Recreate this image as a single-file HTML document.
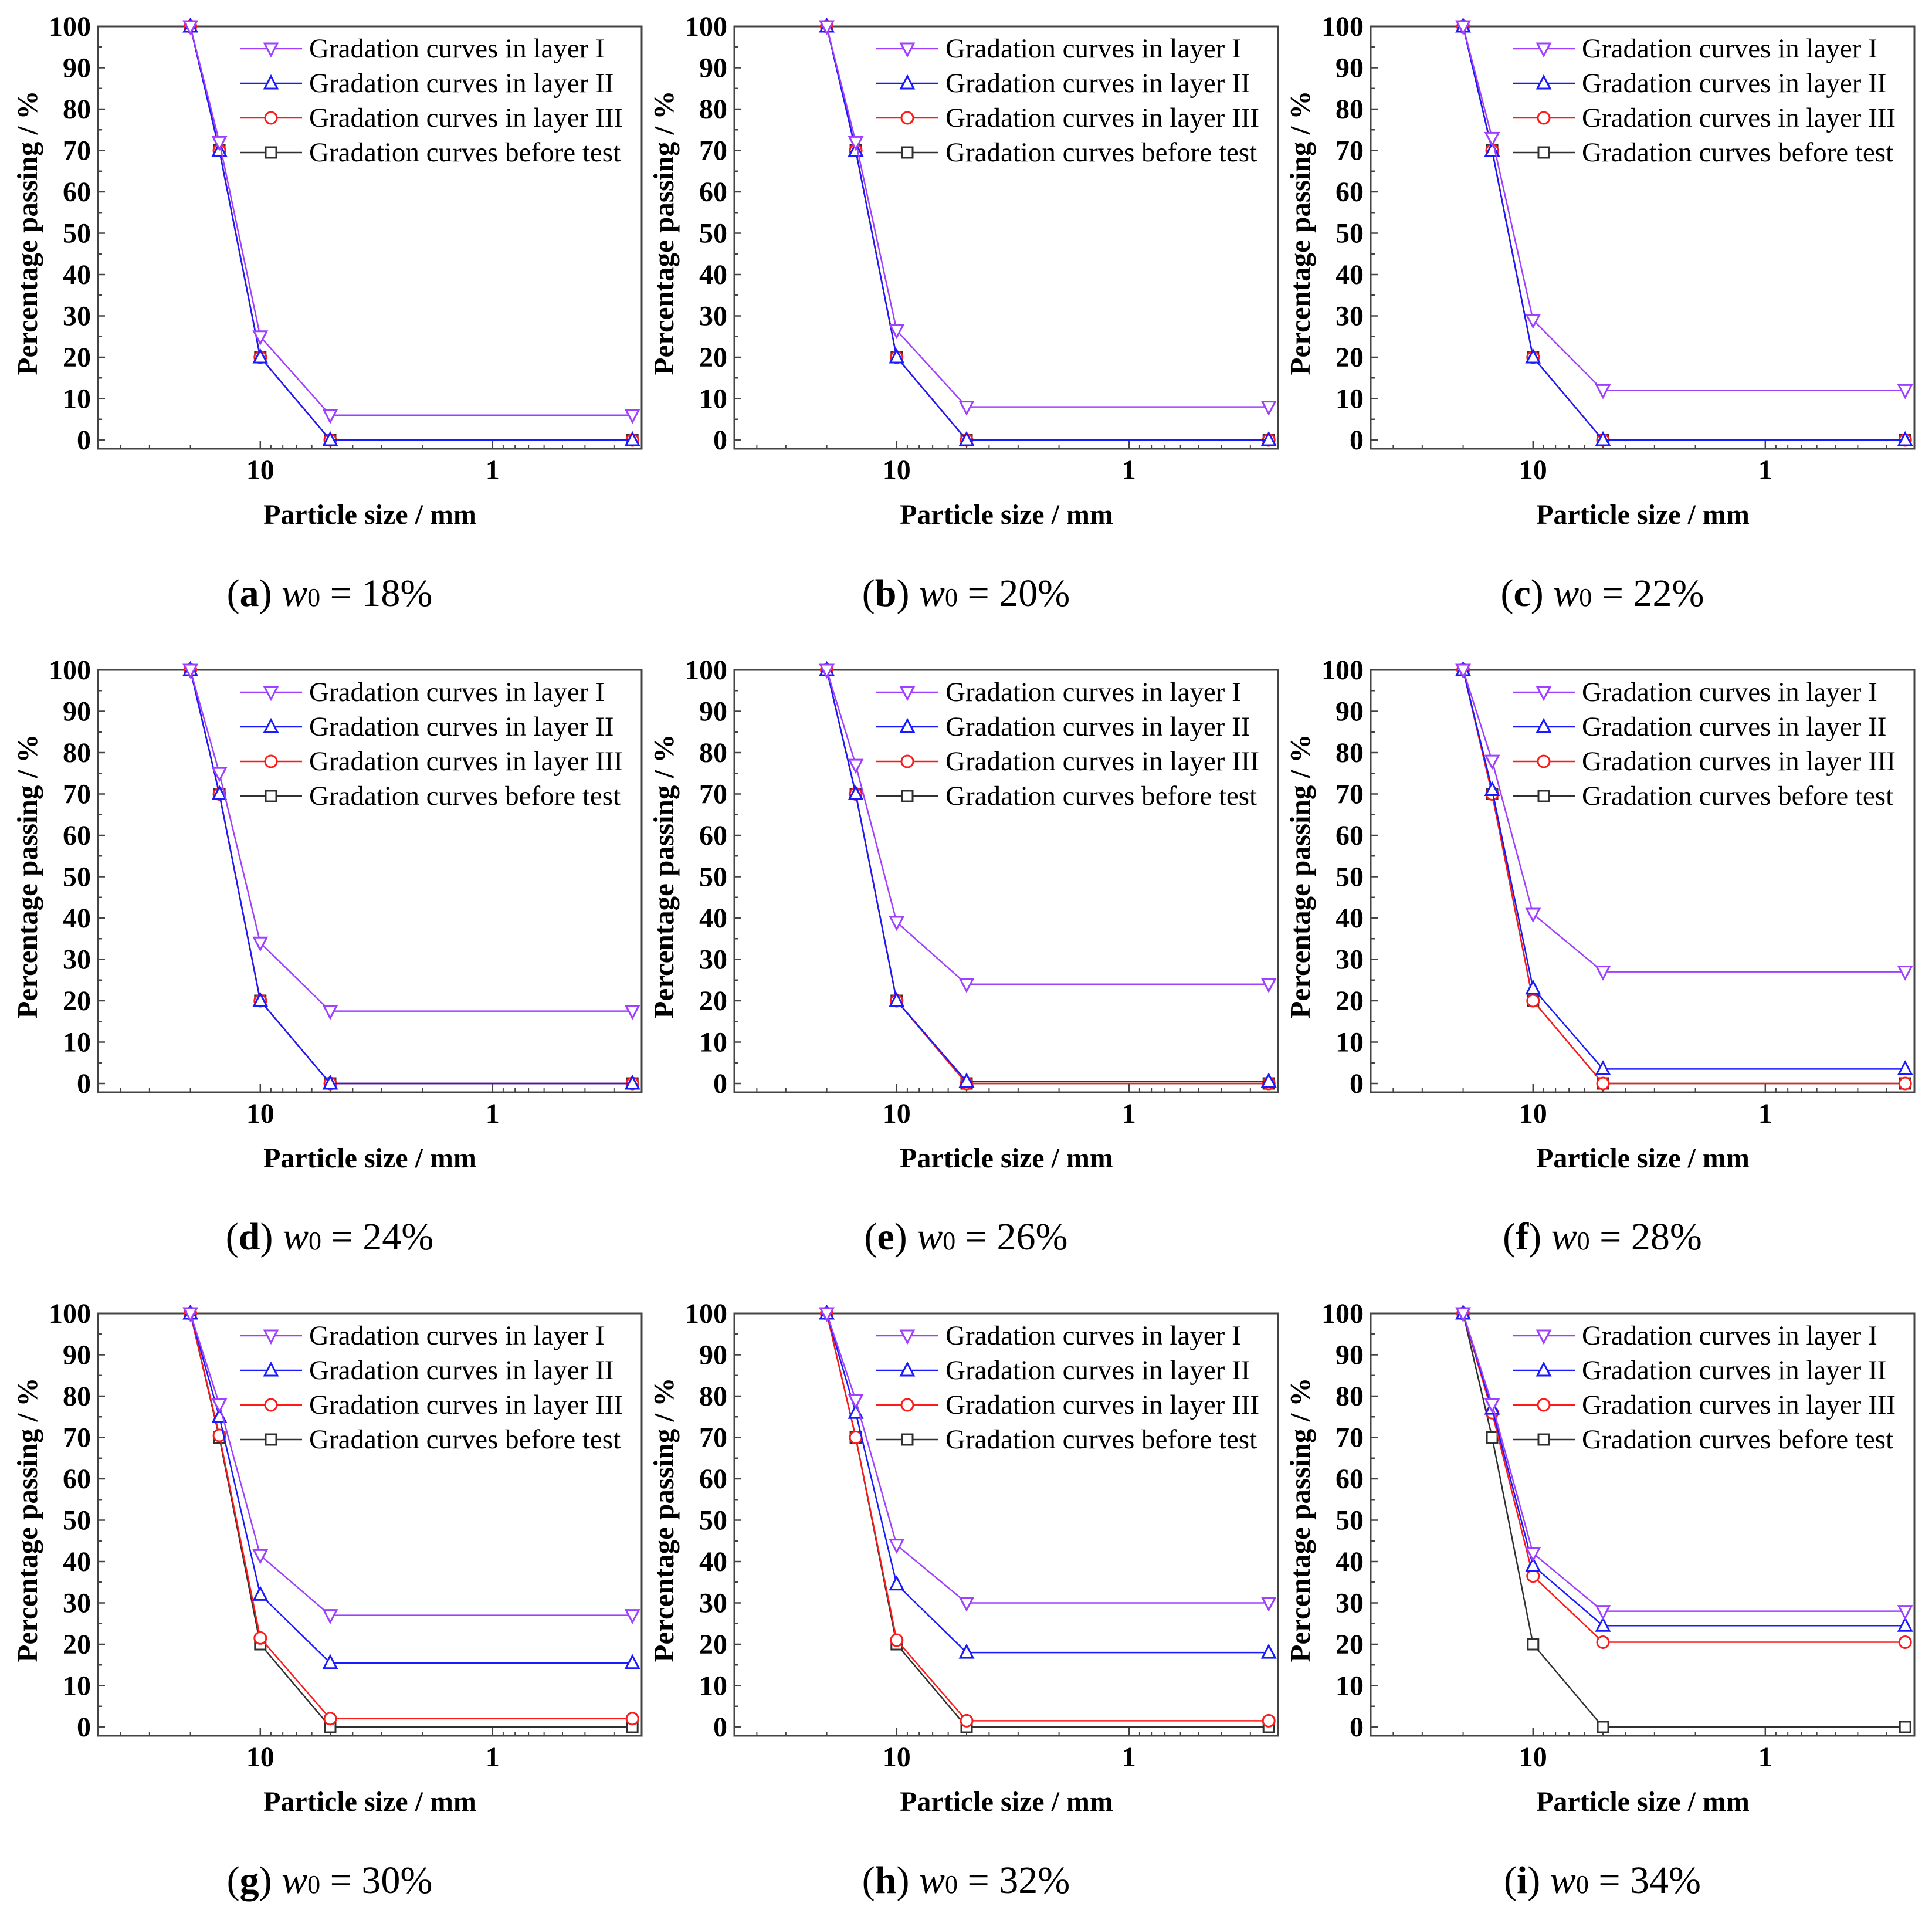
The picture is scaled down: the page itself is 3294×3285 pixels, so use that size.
<!DOCTYPE html>
<html><head><meta charset="utf-8"><style>
html,body{margin:0;padding:0;background:#fff;}
svg{display:block;}
</style></head><body>
<svg id="fig" width="3294" height="3285" viewBox="0 0 3294 3285" xmlns="http://www.w3.org/2000/svg"></svg>
<script>
const sizes = [20, 15, 10, 5, 0.25];
const panelLabels = ['a','b','c','d','e','f','g','h','i'];
const panelW0 = ['18%','20%','22%','24%','26%','28%','30%','32%','34%'];
const layer1 = [
 [100,72,25,6,6],[100,72,26.5,8,8],[100,73,29,12,12],
 [100,75,34,17.5,17.5],[100,77,39,24,24],[100,78,41,27,27],
 [100,78,41.5,27,27],[100,79,44,30,30],[100,78,42,28,28]];
const layer2 = [
 [100,70,20,0,0],[100,70,20,0,0],[100,70,20,0,0],
 [100,70,20,0,0],[100,70,20,0.5,0.5],[100,71,23,3.5,3.5],
 [100,75,32,15.5,15.5],[100,76,34.5,18,18],[100,77,39,24.5,24.5]];
const layer3 = [
 [100,70,20,0,0],[100,70,20,0,0],[100,70,20,0,0],
 [100,70,20,0,0],[100,70,20,0,0],[100,70,20,0,0],
 [100,70.5,21.5,2,2],[100,70,21,1.5,1.5],[100,76,36.5,20.5,20.5]];
const before = [
 [100,70,20,0,0],[100,70,20,0,0],[100,70,20,0,0],
 [100,70,20,0,0],[100,70,20,0,0],[100,70,20,0,0],
 [100,70,20,0,0],[100,70,20,0,0],[100,70,20,0,0]];
const yTicks = [0,10,20,30,40,50,60,70,80,90,100];
const xTickLabels = [10, 1];
const legendNames = ['Gradation curves in layer I','Gradation curves in layer II','Gradation curves in layer III','Gradation curves before test'];

const NS='http://www.w3.org/2000/svg';
const svg=document.getElementById('fig');
function mk(tag,attrs,parent){const e=document.createElementNS(NS,tag);for(const k in attrs)e.setAttribute(k,attrs[k]);(parent||svg).appendChild(e);return e;}

const PW=927, DEC=396, YS=7.05;
const series=[
 {data:before,color:'#303030',marker:'square',name:'before'},
 {data:layer3,color:'#ff1a1a',marker:'circle',name:'layer3'},
 {data:layer2,color:'#1a1aff',marker:'up',name:'layer2'},
 {data:layer1,color:'#a040ff',marker:'down',name:'layer1'}];

function drawMarker(g,type,cx,cy,color){
  let e;
  if(type==='square') e=mk('rect',{x:cx-9,y:cy-9,width:18,height:18,fill:'#fff',stroke:color,'stroke-width':3},g);
  else if(type==='circle') e=mk('circle',{cx:cx,cy:cy,r:10,fill:'#fff',stroke:color,'stroke-width':3},g);
  else if(type==='up') e=mk('polygon',{points:`${cx},${cy-12} ${cx-11},${cy+9} ${cx+11},${cy+9}`,fill:'#fff',stroke:color,'stroke-width':3},g);
  else e=mk('polygon',{points:`${cx},${cy+12} ${cx-11},${cy-9} ${cx+11},${cy-9}`,fill:'#fff',stroke:color,'stroke-width':3},g);
  return e;
}

for(let p=0;p<9;p++){
  const r=Math.floor(p/3), c=p%3;
  const L=167+1085*c, T=45+1097*r;
  const xs=v=>L+(Math.log10(50)-Math.log10(v))*DEC;
  const ys=v=>T+705-v*YS;
  const g=mk('g',{});
  
  
  const frame=mk('rect',{x:L,y:T,width:PW,height:720,fill:'none',stroke:'#444','stroke-width':3},g);
  
  
  for(let v=0;v<=100;v+=5){
    const major=v%10===0;
    mk('line',{x1:L,x2:L+(major?12:7),y1:ys(v),y2:ys(v),stroke:'#444','stroke-width':2.5},g);
  }
  yTicks.forEach(v=>{
    const t=mk('text',{x:L-12,y:ys(v)+16,'text-anchor':'end','font-family':'Liberation Serif, serif','font-weight':'bold','font-size':48},g);
    t.textContent=v;
    
    
  });
  const minors=[40,30,20,9,8,7,6,5,4,3,2,0.9,0.8,0.7,0.6,0.5,0.4,0.3];
  minors.forEach(v=>{mk('line',{x1:xs(v),x2:xs(v),y1:T+720,y2:T+713,stroke:'#444','stroke-width':2},g);});
  xTickLabels.forEach(v=>{
    mk('line',{x1:xs(v),x2:xs(v),y1:T+720,y2:T+706,stroke:'#444','stroke-width':2.5},g);
    const t=mk('text',{x:xs(v),y:T+772,'text-anchor':'middle','font-family':'Liberation Serif, serif','font-weight':'bold','font-size':48},g);
    t.textContent=v;
    
    
  });
  const xt=mk('text',{x:L+464,y:T+848,'text-anchor':'middle','font-family':'Liberation Serif, serif','font-weight':'bold','font-size':48},g);
  xt.textContent='Particle size / mm';
  
  
  const yt=mk('text',{x:0,y:0,'text-anchor':'middle','font-family':'Liberation Serif, serif','font-weight':'bold','font-size':49,transform:`translate(${L-104},${T+352}) rotate(-90)`},g);
  yt.textContent='Percentage passing / %';
  
  
  series.forEach(s=>{
    const vals=s.data[p];
    const pts=sizes.map((d,i)=>xs(d)+','+ys(vals[i])).join(' ');
    const pl=mk('polyline',{points:pts,fill:'none',stroke:s.color,'stroke-width':2.5},g);
    
    
    sizes.forEach((d,i)=>{
      const m=drawMarker(g,s.marker,xs(d),ys(vals[i]),s.color);
      
      
    });
  });
  const legOrder=[3,2,1,0];
  legOrder.forEach((si,k)=>{
    const s=series[si];
    const ly=T+38+k*59;
    const lg=mk('g',{},g);
    
    
    mk('line',{x1:L+242,x2:L+348,y1:ly,y2:ly,stroke:s.color,'stroke-width':2.5},lg);
    drawMarker(lg,s.marker,L+295,ly,s.color);
    const t=mk('text',{x:L+360,y:ly+15,'font-family':'Liberation Serif, serif','font-size':47},lg);
    t.textContent=legendNames[k];
  });
  const cap=mk('text',{x:L+395,y:T+988,'text-anchor':'middle','font-family':'Liberation Serif, serif','font-size':66},g);
  
  
  const a=mk('tspan',{},cap);a.textContent='(';
  const b=mk('tspan',{'font-weight':'bold'},cap);b.textContent=panelLabels[p];
  const c2=mk('tspan',{},cap);c2.textContent=') ';
  const w=mk('tspan',{'font-style':'italic'},cap);w.textContent='w';
  const z=mk('tspan',{'font-size':44},cap);z.textContent='0';
  const rest=mk('tspan',{},cap);rest.textContent=' = '+panelW0[p];
}
</script>
</body></html>
